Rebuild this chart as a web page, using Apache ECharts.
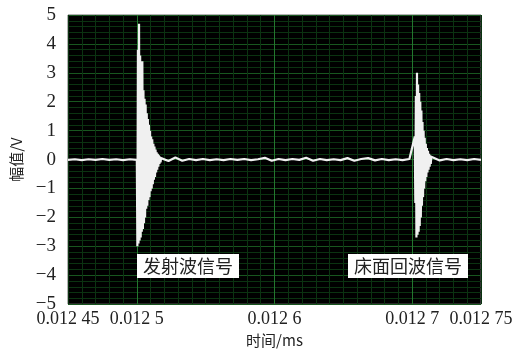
<!DOCTYPE html>
<html>
<head>
<meta charset="utf-8">
<script src="https://cdn.jsdelivr.net/npm/echarts@6/dist/echarts.min.js"></script>
<style>
  html, body { margin: 0; padding: 0; background: #fff; }
  #chart { width: 520px; height: 353px; }
</style>
</head>
<body>
<div id="chart"></div>
<script>
// tick labels (x in ms, y in V)
const xLabelTicks = [0.01245, 0.0125, 0.0126, 0.0127, 0.01275];
const xLabelText = ['0.012 45', '0.012 5', '0.012 6', '0.012 7', '0.012 75'];
const yLabelTicks = [-5, -4, -3, -2, -1, 0, 1, 2, 3, 4, 5];
const yLabelText = ['\u22125', '\u22124', '\u22123', '\u22122', '\u22121', '0', '1', '2', '3', '4', '5'];

// baseline noise, read every 0.000005 ms
const noiseStep = 0.000005;
const noiseAStart = 0.01245;
const noiseA = [-0.01, 0.01, -0.02, 0.01, -0.01, 0.02, -0.01, 0.01, -0.02, 0.01, -0.01];
const noiseBStart = 0.012518;
const noiseB = [0.06, -0.05, 0.07, -0.04, 0.02, -0.02, 0.02, -0.02, 0.01, -0.02,
  0.02, -0.01, 0.02, -0.02, 0.01, 0.06, -0.04, 0.02, -0.02, 0.02,
  -0.01, 0.06, -0.04, 0.02, -0.02, 0.01, -0.02, 0.05, -0.04, 0.02,
  0.05, -0.03, 0.02, -0.02, 0.01, -0.02, 0.02];
const noiseCStart = 0.012715;
const noiseC = [0.04, -0.03, 0.02, -0.02, 0.01, -0.02, 0.02, -0.01];

// transmitted wave and floor echo, read every 0.0000004 ms
const pulseStep = 0.0000004;
const pulse1Start = 0.0125004;
const pulse1 = [-3.0, 3.8, -2.9, 4.7, -2.8, 3.6, -2.7, 2.7, -2.5, 3.4,
  -2.4, 2.4, -2.2, 2.1, -2.0, 1.9, -1.7, 1.6, -1.6, 1.4,
  -1.4, 1.2, -1.3, 1.0, -1.1, 0.8, -1.0, 0.7, -0.85, 0.55,
  -0.7, 0.45, -0.6, 0.35, -0.45, 0.25, -0.35, 0.2, -0.25, 0.15,
  -0.15, 0.1, -0.1, 0.05];
const pulse2Start = 0.0127019;
const pulse2 = [0.8, -1.5, 2.2, -2.7, 3.0, -2.6, 2.6, -2.5, 2.3, -2.3,
  2.0, -2.0, 1.7, -1.6, 1.3, -1.3, 1.0, -1.0, 0.75, -0.75,
  0.55, -0.6, 0.4, -0.45, 0.3, -0.35, 0.2, -0.25, 0.15, -0.15, 0.1];

const cursorTime = 0.0125004;

function samples(start, step, values) {
  return values.map((v, i) => [start + i * step, v]);
}

const signal = [].concat(
  samples(noiseAStart, noiseStep, noiseA),
  samples(pulse1Start, pulseStep, pulse1),
  samples(noiseBStart, noiseStep, noiseB),
  samples(pulse2Start, pulseStep, pulse2),
  samples(noiseCStart, noiseStep, noiseC)
);

const serif = 'Liberation Serif';
const cjk = 'Noto Sans CJK SC';
const minorGreen = '#0b3311';
const majorGreen = '#18561f';
const brightGreen = '#23772e';

const chart = echarts.init(document.getElementById('chart'));
chart.setOption({
  animation: false,
  backgroundColor: '#fff',
  grid: {
    left: 68, right: 39, top: 15, bottom: 45,
    show: true,
    backgroundColor: '#000',
    borderColor: '#666',
    borderWidth: 1
  },
  xAxis: {
    type: 'value',
    min: 0.01245,
    max: 0.01275,
    interval: 0.00005,
    name: '时间/ms',
    nameLocation: 'middle',
    nameGap: 25,
    nameTextStyle: { fontFamily: cjk, fontSize: 15, color: '#222' },
    axisLine: { show: false },
    axisTick: { show: false },
    axisLabel: {
      fontFamily: serif, fontSize: 18, color: '#222', margin: 6,
      formatter: (v) => {
        const i = xLabelTicks.findIndex(t => Math.abs(t - v) < 1e-9);
        return i >= 0 ? xLabelText[i] : '';
      }
    },
    splitLine: { show: true, lineStyle: { color: [minorGreen, brightGreen], width: 1 } },
    minorTick: { show: false, splitNumber: 5 },
    minorSplitLine: { show: true, lineStyle: { color: minorGreen, width: 1 } }
  },
  yAxis: {
    type: 'value',
    min: -5,
    max: 5,
    interval: 1,
    name: '幅值/V',
    nameLocation: 'middle',
    nameGap: 44,
    nameRotate: 90,
    nameTextStyle: { fontFamily: cjk, fontSize: 15, color: '#222' },
    axisLine: { show: false },
    axisTick: { show: false },
    axisLabel: {
      fontFamily: serif, fontSize: 19, color: '#222', margin: 12,
      formatter: (v) => {
        const i = yLabelTicks.indexOf(Math.round(v));
        return i >= 0 ? yLabelText[i] : '';
      }
    },
    splitLine: { show: true, lineStyle: { color: majorGreen, width: 1 } },
    minorTick: { show: false, splitNumber: 5 },
    minorSplitLine: { show: true, lineStyle: { color: minorGreen, width: 1 } }
  },
  series: [{
    type: 'line',
    data: signal,
    showSymbol: false,
    lineStyle: { color: '#f0f0f0', width: 2.2 },
    markLine: {
      silent: true,
      symbol: 'none',
      label: { show: false },
      lineStyle: { color: '#c8c8c8', width: 1, type: 'solid' },
      data: [{ xAxis: cursorTime }]
    }
  }],
  graphic: [
    {
      type: 'text', left: 137, top: 254, z: 10,
      style: { text: '发射波信号', font: '18px "Noto Sans CJK SC"', fill: '#222', backgroundColor: '#fff', padding: [3, 6] }
    },
    {
      type: 'text', left: 348, top: 254, z: 10,
      style: { text: '床面回波信号', font: '18px "Noto Sans CJK SC"', fill: '#222', backgroundColor: '#fff', padding: [3, 6] }
    }
  ]
});
</script>
</body>
</html>
